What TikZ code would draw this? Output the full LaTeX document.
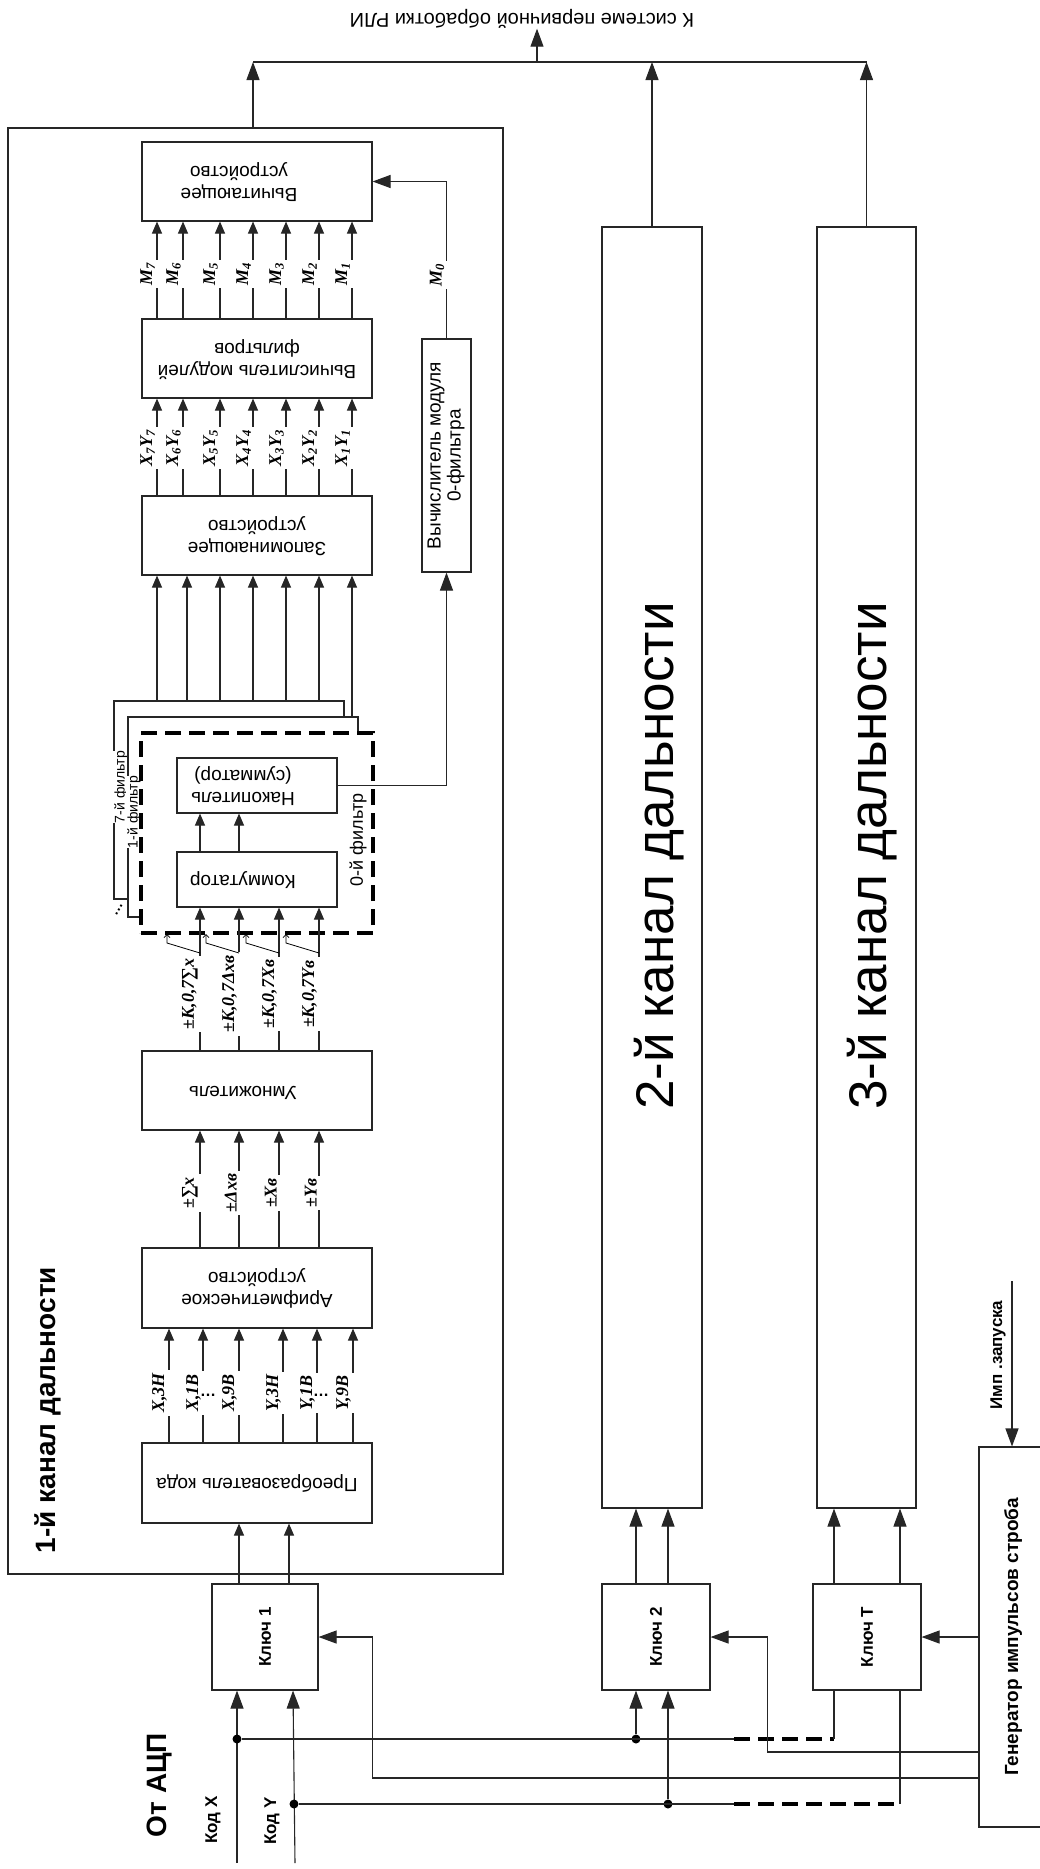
\documentclass[tikz,border=0pt]{standalone}
\usepackage{fontspec}
\usepackage{graphicx}
\setmainfont{Liberation Sans}
\newfontfamily\lblfont{Liberation Serif}
\usetikzlibrary{arrows.meta,fit}

% text turned by #1 degrees, several lines
\newcommand{\rtext}[2]{\rotatebox{#1}{\begin{tabular}{@{}c@{}}#2\end{tabular}}}

\tikzset{
  blk/.style={draw=black!85, line width=1.1pt, inner sep=0pt},
  wire/.style={draw=black!85, line width=1.1pt},
  arr/.style={wire, -{Triangle[length=12pt,width=10pt]}},
  arrb/.style={wire, -{Triangle[length=18pt,width=13pt]}},
  dsh/.style={draw=black, line width=3.6pt, dash pattern=on 16pt off 8pt},
  txt/.style={inner sep=0pt, font=\fontsize{19}{22}\selectfont},
  btxt/.style={inner sep=0pt, font=\bfseries\fontsize{17}{19}\selectfont},
  lab/.style={anchor=east, fill=white, inner xsep=5pt, inner ysep=3pt,
    font=\lblfont\bfseries\itshape\fontsize{18}{20}\selectfont},
  jn/.style={circle, fill=black, inner sep=0pt, minimum size=9pt},
}

\begin{document}
\begin{tikzpicture}[x=1pt,y=-1pt]
\useasboundingbox (0,0) rectangle (1039,1869);

% Channel frames
\node[blk, fit={(8,128) (503,1574)}] (ch1) {};
\node[blk, fit={(602,227) (702,1508)}] (ch2) {};
\node[blk, fit={(817,227) (916,1508)}] (ch3) {};

% Blocks of the 1-st channel
\node[blk, fit={(142,142) (372,221)}] (vych) {};
\node[blk, fit={(142,319) (372,398)}] (vmf) {};
\node[blk, fit={(142,496) (372,575)}] (zap) {};
\node[blk, fit={(422,339) (471,572)}] (vm0) {};

% Filter stack
\node[blk, fill=white, fit={(114,701) (344,899)}] (f7) {};
\node[txt, fill=white, inner xsep=2pt, font=\fontsize{14}{16}\selectfont] (f7-t) at (121,787) {\rotatebox{90}{7-й фильтр}};
\node[blk, fill=white, fit={(128,717) (358,917)}] (f1) {};
\node[txt, fill=white, inner xsep=1pt, font=\fontsize{14}{16}\selectfont] (f1-t) at (134,812) {\rotatebox{90}{1-й фильтр}};
\node[blk, dsh, fill=white, fit={(141,733) (373,933)}] (f0) {};
\node[txt, font=\fontsize{18}{20}\selectfont] (f0-t) at (358,840) {\rotatebox{90}{0-й фильтр}};
\node[txt, font=\bfseries\fontsize{14}{16}\selectfont] (f-dots) at (119,910) {\rotatebox{60}{…}};
\node[blk, fit={(177,758) (337,813)}] (nak) {};
\node[blk, fit={(177,852) (337,907)}] (kom) {};

\node[blk, fit={(142,1051) (372,1130)}] (umn) {};
\node[blk, fit={(142,1248) (372,1328)}] (arif) {};
\node[blk, fit={(142,1443) (372,1523)}] (preob) {};

% Keys and strobe generator
\node[blk, fit={(212,1584) (318,1690)}] (key1) {};
\node[blk, fit={(602,1584) (710,1690)}] (key2) {};
\node[blk, fit={(813,1584) (921,1690)}] (keyT) {};
\node[blk, fit={(979,1447) (1060,1827)}] (gen) {};

% Block texts
\node[txt] (vych-t) at ([xshift=-18pt]vych.center) {\rtext{180}{Вычитающее\\устройство}};
\node[txt] (vmf-t) at (vmf.center) {\rtext{180}{Вычислитель модулей\\фильтров}};
\node[txt] (zap-t) at (zap.center) {\rtext{180}{Запоминающее\\устройство}};
\node[txt, font=\fontsize{19}{20}\selectfont] (vm0-t) at (vm0.center) {\rtext{90}{Вычислитель модуля\\0-фильтра}};
\node[txt] (nak-t) at ([xshift=-14pt]nak.center) {\rtext{180}{Накопитель\\(сумматор)}};
\node[txt] (kom-t) at ([xshift=-14pt]kom.center) {\rtext{180}{Коммутатор}};
\node[txt] (umn-t) at ([xshift=-14pt]umn.center) {\rtext{180}{Умножитель}};
\node[txt] (arif-t) at (arif.center) {\rtext{180}{Арифметическое\\устройство}};
\node[txt] (preob-t) at (preob.center) {\rtext{180}{Преобразователь кода}};

\node[txt, font=\bfseries\fontsize{28}{32}\selectfont] (ch1-t) at (48,1410) {\rotatebox{90}{1-й канал дальности}};
\node[txt, font=\fontsize{53}{56}\selectfont] (ch2-t) at (659,856) {\rotatebox{90}{2-й канал дальности}};
\node[txt, font=\fontsize{53}{56}\selectfont] (ch3-t) at (872,856) {\rotatebox{90}{3-й канал дальности}};
\node[txt, font=\fontsize{20}{22}\selectfont] (out-t) at (522,19) {\rotatebox{180}{К системе первичной обработки РЛИ}};

\node[btxt, font=\bfseries\fontsize{28}{32}\selectfont] (adc-t) at (160,1785) {\rotatebox{90}{От АЦП}};
\node[btxt] (kx-t) at (213,1820) {\rotatebox{90}{Код X}};
\node[btxt] (ky-t) at (272,1821) {\rotatebox{90}{Код Y}};
\node[btxt] (key1-t) at (key1.center) {\rotatebox{90}{Ключ 1}};
\node[btxt] (key2-t) at (key2.center) {\rotatebox{90}{Ключ 2}};
\node[btxt] (keyT-t) at (keyT.center) {\rotatebox{90}{Ключ Т}};
\node[btxt, font=\bfseries\fontsize{19}{21}\selectfont] (gen-t) at (1013,1637) {\rotatebox{90}{Генератор импульсов строба}};
\node[btxt] (imp-t) at (998,1355) {\rotatebox{90}{Имп .запуска}};

% Output bus
\coordinate (bus1) at (253,62);
\coordinate (outp) at (537,62);
\draw[wire] (bus1) -- (ch3.north |- bus1);
\draw[arrb] (bus1 |- ch1.north) -- (bus1);
\draw[arrb] (ch2.north) -- (ch2.north |- bus1);
\draw[arrb] (ch3.north) -- (ch3.north |- bus1);
\draw[arrb] (outp) -- (outp |- out-t.south);

% Into the subtractor
\foreach \dx [count=\i] in {-100,-74,-37,-4,29,62,95}{
  \coordinate (vi\i) at ([xshift=\dx pt]vych.south);
  \draw[arr] (vi\i |- vmf.north) -- (vi\i);
}
\foreach \m [count=\i] in {7,6,5,4,3,2,1}
  \node[lab, xshift=3pt] (lm\m) at (vi\i |- 0,274) {\rotatebox{90}{M\textsubscript{\m}}};
\draw[arrb] (vm0.north) |- (vych.east);
\node[lab, xshift=3pt] (lm0) at (vm0.north |- 0,275) {\rotatebox{90}{M\textsubscript{0}}};

% Into the modulus computer
\foreach \dx [count=\i] in {-100,-74,-37,-4,29,62,95}{
  \coordinate (mi\i) at ([xshift=\dx pt]vmf.south);
  \draw[arr] (mi\i |- zap.north) -- (mi\i);
}
\foreach \n [count=\i] in {7,6,5,4,3,2,1}
  \node[lab, xshift=3pt] (lx\n) at (mi\i |- 0,448) {\rotatebox{90}{X\textsubscript{\n}Y\textsubscript{\n}}};

% Into the memory
\foreach \dx [count=\i] in {-100,-70,-37,-4,29,62}{
  \coordinate (zi\i) at ([xshift=\dx pt]zap.south);
  \draw[arr] (zi\i |- f7.north) -- (zi\i);
}
\coordinate (zi7) at ([xshift=95pt]zap.south);
\draw[arr] (zi7 |- f1.north) -- (zi7);

% Inside the 0-th filter
\foreach \dx in {-57,-18}
  \draw[arr] ([xshift=\dx pt]kom.north) -- ([xshift=\dx pt]nak.south);
\draw[arrb] (nak.east) -| (vm0.south);

% Multiplier to switch
\foreach \dx/\tx [count=\i] in {-57/{±K,0,7∑x},-18/{±K,0,7Δxв},22/{±K,0,7Xв},62/{±K,0,7Yв}}{
  \coordinate (ui\i) at ([xshift=\dx pt]kom.south);
  \draw[arr] (ui\i |- umn.north) -- (ui\i);
  \node[lab, xshift=3pt] (lk\i) at (ui\i |- 0,994) {\rotatebox{90}{\tx}};
}
\foreach \i in {1,...,4}
  \draw[line width=0.8pt, -{Straight Barb[length=3pt,width=6pt]}] (ui\i |- 0,953) -- ++(-33,-10) -- ++(0,-9);

% Arithmetic unit to multiplier
\foreach \dx/\tx [count=\i] in {-57/{±∑x},-18/{±Δxв},22/{±Xв},62/{±Yв}}{
  \coordinate (ai\i) at ([xshift=\dx pt]umn.south);
  \draw[arr] (ai\i |- arif.north) -- (ai\i);
  \node[lab, xshift=3pt] (la\i) at (ai\i |- 0,1193) {\rotatebox{90}{\tx}};
}

% Code converter to arithmetic unit
\foreach \dx/\tx [count=\i] in {-88/{X,3Н},-54/{X,1В},-18/{X,9В},26/{Y,3Н},60/{Y,1В},96/{Y,9В}}{
  \coordinate (pi\i) at ([xshift=\dx pt]arif.south);
  \draw[arr] (pi\i |- preob.north) -- (pi\i);
  \node[lab, xshift=3pt] (lp\i) at (pi\i |- 0,1393) {\rotatebox{90}{\tx}};
}
\node[inner sep=0pt, font=\bfseries\fontsize{16}{18}\selectfont] (pd1) at (208,1395) {…};
\node[inner sep=0pt, font=\bfseries\fontsize{16}{18}\selectfont] (pd2) at (321,1395) {…};

% Keys to channels
\foreach \dx [count=\i] in {-18,32}{
  \coordinate (ki\i) at ([xshift=\dx pt]preob.south);
  \draw[arr] (ki\i |- key1.north) -- (ki\i);
}
\foreach \dx [count=\i] in {-16,16}{
  \coordinate (c2i\i) at ([xshift=\dx pt]ch2.south);
  \draw[arrb] (c2i\i |- key2.north) -- (c2i\i);
}
\foreach \dx [count=\i] in {-32.5,33.5}{
  \coordinate (c3i\i) at ([xshift=\dx pt]ch3.south);
  \draw[arrb] (c3i\i |- keyT.north) -- (c3i\i);
}

% Codes X and Y from the ADC
\coordinate (kx) at ([xshift=-28pt]key1.south);
\coordinate (ky) at ([xshift=28pt]key1.south);
\coordinate (kxin) at (237,1863);
\coordinate (kyin) at (295,1863);
\draw[arrb] (kxin) -- (kx);
\draw[arrb] (kyin) -- (ky);
\node[jn] (jx1) at (kx |- 0,1739) {};
\node[jn] (jy1) at ([xshift=1pt]ky |- 0,1804) {};

\coordinate (k2x) at ([xshift=-20pt]key2.south);
\coordinate (k2y) at ([xshift=12pt]key2.south);
\coordinate (kTx) at ([xshift=-33pt]keyT.south);
\coordinate (kTy) at ([xshift=33pt]keyT.south);
\node[jn] (jx2) at (k2x |- jx1) {};
\node[jn] (jy2) at (k2y |- jy1) {};
\coordinate (dsx) at (734,1739);
\coordinate (dsy) at (734,1804);

\draw[wire] (jx1) -- (dsx);
\draw[dsh] (dsx) -- (kTx |- dsx);
\draw[wire] (kTx |- dsx) -- (kTx);
\draw[arrb] (jx2) -- (k2x);
\draw[wire] (jy1) -- (dsy);
\draw[dsh] (dsy) -- (kTy |- dsy);
\draw[wire] (kTy |- dsy) -- (kTy);
\draw[arrb] (jy2) -- (k2y);

% Strobe generator to keys
\draw[arrb] (gen.west |- 0,1778) -| ([xshift=54pt]key1.east) -- (key1.east);
\draw[arrb] (gen.west |- 0,1752) -| ([xshift=57pt]key2.east) -- (key2.east);
\draw[arrb] (gen.west |- keyT.east) -- (keyT.east);
\coordinate (imp) at (1012,1281);
\draw[arrb] (imp) -- (imp |- gen.north);

\end{tikzpicture}
\end{document}
